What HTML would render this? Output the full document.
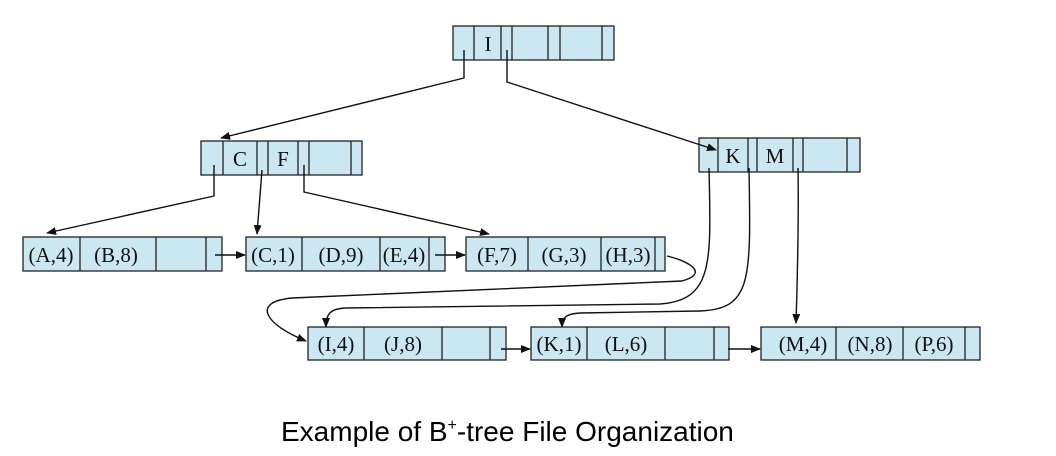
<!DOCTYPE html>
<html><head><meta charset="utf-8"><style>
html,body{margin:0;padding:0;background:#fff;}
svg{display:block;}
.b{fill:#cbe7f1;stroke:#222;stroke-width:1.3;}
.d{stroke:#222;stroke-width:1.3;}
.t{font-family:"Liberation Serif",serif;font-size:21px;fill:#111;}
.l{fill:none;stroke:#111;stroke-width:1.4;}
</style></head><body>
<svg width="1056" height="456" viewBox="0 0 1056 456" xmlns="http://www.w3.org/2000/svg">
<defs><marker id="a" markerWidth="10" markerHeight="8" refX="9" refY="4" orient="auto" markerUnits="userSpaceOnUse"><path d="M0,0 L10,4 L0,8 z" fill="#111"/></marker></defs>

<rect class="b" x="453" y="26" width="161" height="34"/>
<g class="d"><line x1="474" y1="26" x2="474" y2="60"/><line x1="501" y1="26" x2="501" y2="60"/><line x1="512" y1="26" x2="512" y2="60"/><line x1="548" y1="26" x2="548" y2="60"/><line x1="560" y1="26" x2="560" y2="60"/><line x1="602" y1="26" x2="602" y2="60"/></g>
<text class="t" x="488" y="51" text-anchor="middle">I</text>

<rect class="b" x="201" y="141" width="161" height="34"/>
<g class="d"><line x1="223" y1="141" x2="223" y2="175"/><line x1="257" y1="141" x2="257" y2="175"/><line x1="268" y1="141" x2="268" y2="175"/><line x1="298" y1="141" x2="298" y2="175"/><line x1="309" y1="141" x2="309" y2="175"/><line x1="351" y1="141" x2="351" y2="175"/></g>
<text class="t" x="240" y="166" text-anchor="middle">C</text>
<text class="t" x="283" y="166" text-anchor="middle">F</text>

<rect class="b" x="699" y="138" width="161" height="34"/>
<g class="d"><line x1="718" y1="138" x2="718" y2="172"/><line x1="748" y1="138" x2="748" y2="172"/><line x1="757" y1="138" x2="757" y2="172"/><line x1="793" y1="138" x2="793" y2="172"/><line x1="803" y1="138" x2="803" y2="172"/><line x1="847" y1="138" x2="847" y2="172"/></g>
<text class="t" x="733" y="163" text-anchor="middle">K</text>
<text class="t" x="775" y="163" text-anchor="middle">M</text>

<rect class="b" x="23" y="237" width="199" height="34"/>
<g class="d"><line x1="80" y1="237" x2="80" y2="271"/><line x1="156" y1="237" x2="156" y2="271"/><line x1="206" y1="237" x2="206" y2="271"/></g>
<text class="t" x="51" y="262" text-anchor="middle">(A,4)</text><text class="t" x="116" y="262" text-anchor="middle">(B,8)</text>

<rect class="b" x="246" y="237" width="199" height="34"/>
<g class="d"><line x1="302" y1="237" x2="302" y2="271"/><line x1="380" y1="237" x2="380" y2="271"/><line x1="429" y1="237" x2="429" y2="271"/></g>
<text class="t" x="273" y="262" text-anchor="middle">(C,1)</text><text class="t" x="341" y="262" text-anchor="middle">(D,9)</text><text class="t" x="404" y="262" text-anchor="middle">(E,4)</text>

<rect class="b" x="466" y="237" width="199" height="34"/>
<g class="d"><line x1="528" y1="237" x2="528" y2="271"/><line x1="601" y1="237" x2="601" y2="271"/><line x1="655" y1="237" x2="655" y2="271"/></g>
<text class="t" x="497" y="262" text-anchor="middle">(F,7)</text><text class="t" x="564" y="262" text-anchor="middle">(G,3)</text><text class="t" x="628" y="262" text-anchor="middle">(H,3)</text>

<rect class="b" x="308" y="327" width="198" height="33"/>
<g class="d"><line x1="364" y1="327" x2="364" y2="360"/><line x1="442" y1="327" x2="442" y2="360"/><line x1="490" y1="327" x2="490" y2="360"/></g>
<text class="t" x="336" y="351" text-anchor="middle">(I,4)</text><text class="t" x="403" y="351" text-anchor="middle">(J,8)</text>

<rect class="b" x="531" y="327" width="198" height="33"/>
<g class="d"><line x1="587" y1="327" x2="587" y2="360"/><line x1="665" y1="327" x2="665" y2="360"/><line x1="714" y1="327" x2="714" y2="360"/></g>
<text class="t" x="559" y="351" text-anchor="middle">(K,1)</text><text class="t" x="626" y="351" text-anchor="middle">(L,6)</text>

<rect class="b" x="761" y="327" width="219" height="33"/>
<g class="d"><line x1="836" y1="327" x2="836" y2="360"/><line x1="903" y1="327" x2="903" y2="360"/><line x1="965" y1="327" x2="965" y2="360"/></g>
<text class="t" x="803" y="351" text-anchor="middle">(M,4)</text><text class="t" x="870" y="351" text-anchor="middle">(N,8)</text><text class="t" x="934" y="351" text-anchor="middle">(P,6)</text>

<path class="l" d="M464 50 L464 78 L221 138" marker-end="url(#a)"/>
<path class="l" d="M507 50 L507 82 L716 150" marker-end="url(#a)"/>
<path class="l" d="M214 165 L214 196 L47 233" marker-end="url(#a)"/>
<path class="l" d="M262 170 L257 234" marker-end="url(#a)"/>
<path class="l" d="M304 165 L304 192 L489 234" marker-end="url(#a)"/>
<path class="l" d="M215 255 L245 255" marker-end="url(#a)"/>
<path class="l" d="M435 255 L465 255" marker-end="url(#a)"/>
<path class="l" d="M501 349 L530 349" marker-end="url(#a)"/>
<path class="l" d="M728 349 L760 349" marker-end="url(#a)"/>
<path class="l" d="M667 256 C692 262 708 274 682 281 L292 298 C250 302 266 325 306 341" marker-end="url(#a)"/>
<path class="l" d="M709 168 C711 262 714 300 660 304 L345 308 C330 309 326 314 326 327" marker-end="url(#a)"/>
<path class="l" d="M749 168 C751 280 752 309 700 311 L580 313 C565 314 562 318 562 327" marker-end="url(#a)"/>
<path class="l" d="M798 168 C799 230 797 290 796 323" marker-end="url(#a)"/>

<text x="281" y="441" font-family="Liberation Sans, sans-serif" font-size="28" fill="#000">Example of B<tspan font-size="16" dy="-11">+</tspan><tspan dy="11">-tree File Organization</tspan></text>
</svg>
</body></html>
